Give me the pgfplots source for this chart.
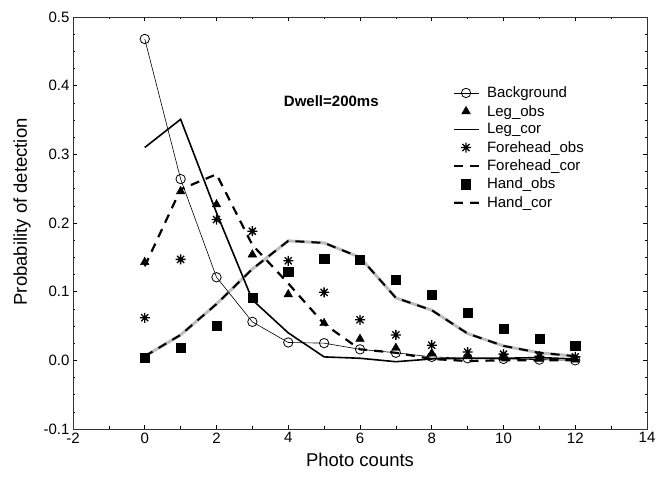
\documentclass[border=0pt]{standalone}
\usepackage{pgfplots}
\pgfplotsset{compat=1.18}
\usepackage{fontspec}
\setmainfont{Liberation Sans}
\definecolor{handgray}{RGB}{190,190,190}
\pgfdeclareplotmark{ast8}{%
  \pgfpathmoveto{\pgfqpoint{-\pgfplotmarksize}{0pt}}\pgfpathlineto{\pgfqpoint{\pgfplotmarksize}{0pt}}%
  \pgfpathmoveto{\pgfqpoint{0pt}{-\pgfplotmarksize}}\pgfpathlineto{\pgfqpoint{0pt}{\pgfplotmarksize}}%
  \pgfpathmoveto{\pgfqpoint{-0.707\pgfplotmarksize}{-0.707\pgfplotmarksize}}\pgfpathlineto{\pgfqpoint{0.707\pgfplotmarksize}{0.707\pgfplotmarksize}}%
  \pgfpathmoveto{\pgfqpoint{-0.707\pgfplotmarksize}{0.707\pgfplotmarksize}}\pgfpathlineto{\pgfqpoint{0.707\pgfplotmarksize}{-0.707\pgfplotmarksize}}%
  \pgfusepathqstroke}
\begin{document}
\begin{tikzpicture}[x=1pt,y=1pt]
\path (0,0) rectangle (659,481);
\begin{axis}[
  at={(73pt,52pt)}, anchor=south west,
  scale only axis, width=574pt, height=412pt,
  xmin=-2, xmax=14, ymin=-0.1, ymax=0.5,
  xtick={-2,0,...,14}, minor x tick num=1,
  ytick={-0.1,0,0.1,0.2,0.3,0.4,0.5}, minor y tick num=3,
  tick align=inside, tick pos=both,
  major tick length=4pt, minor tick length=2.5pt,
  tick style={black, line width=0.6pt},
  axis line style={line width=0.8pt, black!80},
  /pgf/number format/assume math mode=true,
  yticklabel style={/pgf/number format/fixed, /pgf/number format/precision=1, /pgf/number format/fixed zerofill},
  ticklabel style={font=\fontsize{15}{18}\selectfont},
  xlabel={Photo counts}, ylabel={Probability of detection},
  every axis x label/.style={at={(axis description cs:0.5,-0.075)}, anchor=center},
  every axis y label/.style={at={(axis description cs:-0.0889,0.527)}, anchor=center, rotate=90},
  label style={font=\fontsize{18.5}{22}\selectfont},
  legend style={draw=none, fill=none, at={(0.66,0.836)}, anchor=north west,
    font=\fontsize{15}{17}\selectfont, row sep=2pt, inner sep=0pt,
    /tikz/every odd column/.append style={column sep=3pt}},
  legend cell align=left,
  legend image code/.code={\draw[mark repeat=2,mark phase=2,#1] plot coordinates {(0pt,0pt) (12.5pt,0pt) (25pt,0pt)};},
]
% Hand_cor gray underlay
\addplot[handgray, line width=3pt, forget plot] coordinates {
(0,0.006) (1,0.037) (2,0.082) (3,0.133) (4,0.174) (5,0.171) (6,0.150) (7,0.091) (8,0.073) (9,0.039) (10,0.021) (11,0.011) (12,0.006)};
% Background
\addplot[black, line width=0.6pt, mark=o, mark size=4.7pt, mark options={fill=white, line width=0.8pt}] coordinates {
(0,0.468) (1,0.264) (2,0.121) (3,0.056) (4,0.026) (5,0.025) (6,0.016) (7,0.011) (8,0.005) (9,0.003) (10,0.002) (11,0.001) (12,0.000)};
\addlegendentry{Background}
% Leg_obs
\addplot[only marks, mark=triangle*, mark size=5pt, black] coordinates {
(0,0.143) (1,0.246) (2,0.227) (3,0.154) (4,0.096) (5,0.054) (6,0.031) (7,0.018) (8,0.010) (9,0.006) (10,0.004) (11,0.002) (12,0.001)};
\addlegendentry{Leg\_obs}
% Leg_cor
\addplot[black, line width=1.6pt, no markers] coordinates {
(0,0.310) (1,0.351) (2,0.215) (3,0.088) (4,0.040) (5,0.005) (6,0.003) (7,-0.002) (8,0.002) (9,0.003) (10,0.003) (11,0.004) (12,0.002)};
\addlegendentry{Leg\_cor}
% Forehead_obs
\addplot[only marks, mark=ast8, mark size=5pt, black, mark options={line width=1.3pt}] coordinates {
(0,0.062) (1,0.147) (2,0.205) (3,0.188) (4,0.145) (5,0.099) (6,0.059) (7,0.037) (8,0.022) (9,0.012) (10,0.009) (11,0.006) (12,0.005)};
\addlegendentry{Forehead\_obs}
% Forehead_cor
\addplot[black, line width=2.2pt, dash pattern=on 9pt off 7pt, no markers] coordinates {
(0,0.137) (1,0.249) (2,0.271) (3,0.168) (4,0.112) (5,0.053) (6,0.016) (7,0.011) (8,0.002) (9,-0.001) (10,0.000) (11,0.000) (12,0.000)};
\addlegendentry{Forehead\_cor}
% Hand_obs
\addplot[only marks, mark=square*, mark size=4.6pt, black] coordinates {
(0,0.004) (1,0.018) (2,0.051) (3,0.091) (4,0.129) (5,0.148) (6,0.147) (7,0.118) (8,0.095) (9,0.069) (10,0.046) (11,0.032) (12,0.021)};
\addlegendentry{Hand\_obs}
% Hand_cor dashed overlay
\addplot[black, line width=2pt, dash pattern=on 9pt off 7pt, no markers,
  legend image code/.code={%
    \draw[handgray, line width=3pt] (0pt,0pt) -- (27pt,0pt);
    \draw[black, line width=2pt, dash pattern=on 9pt off 7pt] (0pt,0pt) -- (25pt,0pt);}] coordinates {
(0,0.006) (1,0.037) (2,0.082) (3,0.133) (4,0.174) (5,0.171) (6,0.150) (7,0.091) (8,0.073) (9,0.039) (10,0.021) (11,0.011) (12,0.006)};
\addlegendentry{Hand\_cor}
\node[font=\fontsize{15}{18}\selectfont\bfseries] at (axis cs:5.2,0.377) {Dwell=200ms};
\end{axis}
\end{tikzpicture}
\end{document}
